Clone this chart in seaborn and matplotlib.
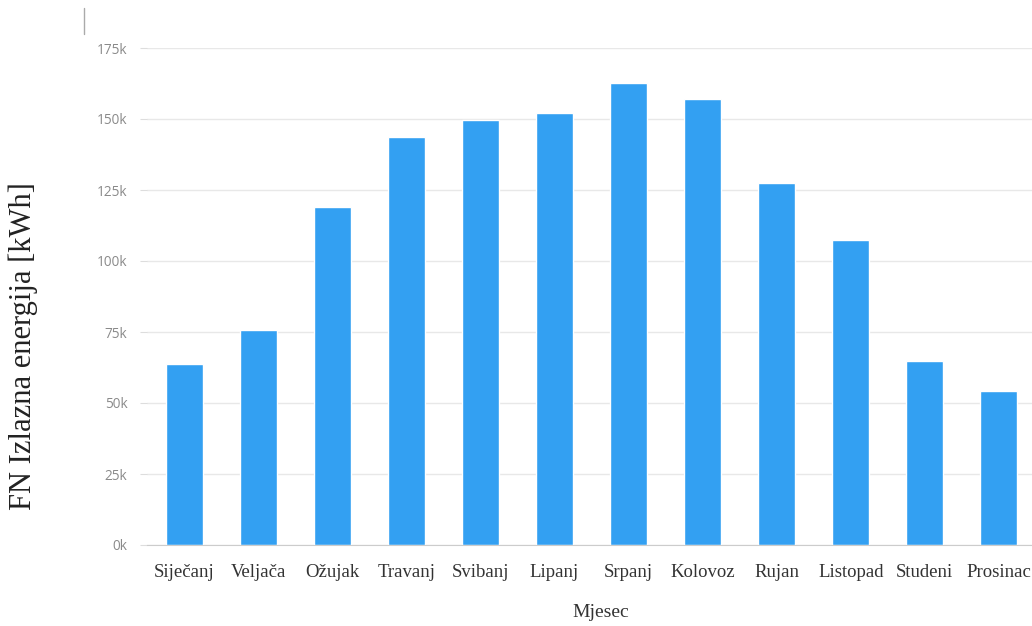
import matplotlib
matplotlib.use("Agg")
import matplotlib.pyplot as plt
import seaborn as sns
import pandas as pd
import numpy as np
from matplotlib.lines import Line2D

## data
mjeseci = ["Siječanj", "Veljača", "Ožujak", "Travanj", "Svibanj", "Lipanj",
           "Srpanj", "Kolovoz", "Rujan", "Listopad", "Studeni", "Prosinac"]
energija = [63700, 75700, 119000, 143700, 149600, 152000,
            162700, 157000, 127500, 107400, 64800, 54200]
y_ticks = [0, 25000, 50000, 75000, 100000, 125000, 150000, 175000]
y_tick_labels = ["0k", "25k", "50k", "75k", "100k", "125k", "150k", "175k"]

df = pd.DataFrame({"Mjesec": mjeseci, "Energija": energija})

sns.set_style("white")

fig = plt.figure(figsize=(10.32, 6.26), dpi=100)
# plot area runs a bit past the right edge, like the cropped original
ax = fig.add_axes([147 / 1032, 81 / 626, 889 / 1032, 497 / 626])

sns.barplot(data=df, x="Mjesec", y="Energija", color="#33a0f2",
            saturation=1, width=0.5, ax=ax)

ax.set_ylim(0, 175000)
ax.set_xlim(-0.5, 11.5)
ax.set_yticks(y_ticks)
ax.set_yticklabels(y_tick_labels, fontsize=9.8, color="#8a8a8a", family="Open Sans")
ax.grid(axis="y", color="#e8e8e8", linewidth=1)
ax.set_axisbelow(True)

# x ticks: labels at categories, tick marks between categories
ax.tick_params(axis="x", which="major", length=0, pad=14)
ax.set_xticks(np.arange(-0.5, 12, 1), minor=True)
ax.tick_params(axis="x", which="minor", length=7, color="#cccccc", width=1)
ax.tick_params(axis="y", length=5, color="#dddddd", pad=9, left=True)
for lab in ax.get_xticklabels():
    lab.set_family("Liberation Serif")
    lab.set_fontsize(13.5)
    lab.set_color("#333333")

for s in ["top", "right", "left"]:
    ax.spines[s].set_visible(False)
ax.spines["bottom"].set_color("#cccccc")

ax.set_ylabel("FN Izlazna energija [kWh]", family="Liberation Serif",
              fontsize=22, color="#222222", va="center")
ax.yaxis.set_label_coords(-0.139, 0.40)
ax.set_xlabel("Mjesec", family="Liberation Serif", fontsize=14, color="#333333",
              va="center")
ax.xaxis.set_label_coords(0.51, -0.135)

# thin stray line at the top left of the original screenshot
fig.add_artist(Line2D([84 / 1032, 84 / 1032], [1 - 8 / 626, 1 - 34 / 626],
                      transform=fig.transFigure, color="#aaaaaa", linewidth=1))

fig.savefig("out.png", dpi=100)
